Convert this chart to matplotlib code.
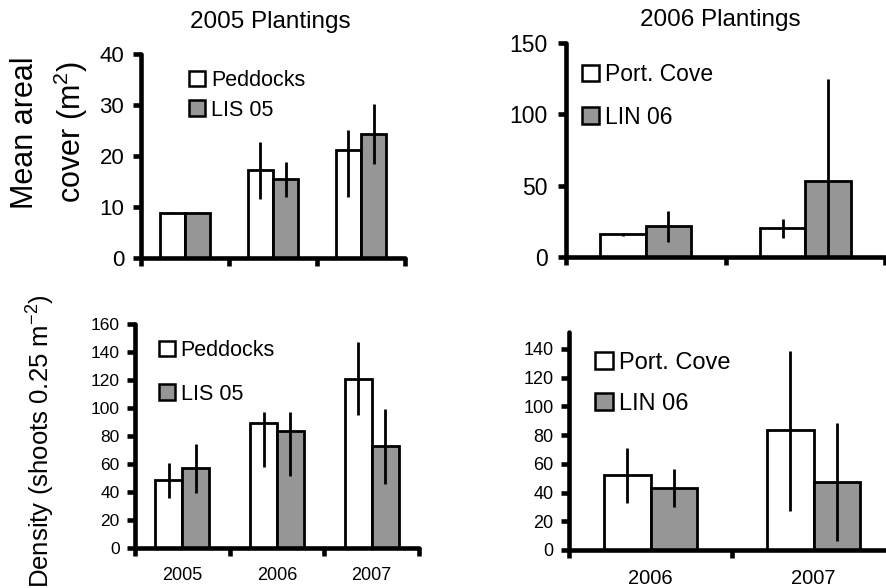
import matplotlib
matplotlib.use('Agg')
import matplotlib.pyplot as plt
from matplotlib.patches import Patch
import numpy as np

plt.rcParams['font.family'] = ['Liberation Sans', 'DejaVu Sans']
plt.rcParams['mathtext.fontset'] = 'custom'
plt.rcParams['mathtext.rm'] = 'Liberation Sans'

# ---------------- data ----------------
years_2005 = ['2005', '2006', '2007']
years_2006 = ['2006', '2007']

# Mean areal cover, 2005 plantings
cover05_ped = [8.9, 17.2, 21.1]
cover05_ped_lo = [0.15, 5.7, 9.1]
cover05_ped_hi = [0.15, 5.6, 4.0]
cover05_lis = [8.9, 15.5, 24.4]
cover05_lis_lo = [0.15, 3.5, 6.0]
cover05_lis_hi = [0.15, 3.4, 5.8]

# Mean areal cover, 2006 plantings
cover06_pc = [15.9, 20.1]
cover06_pc_lo = [1.0, 6.6]
cover06_pc_hi = [1.0, 6.3]
cover06_lin = [21.5, 53.0]
cover06_lin_lo = [11.0, 72.0]
cover06_lin_hi = [10.9, 72.0]

# Density, 2005 plantings
dens05_ped = [48.6, 89.3, 121.0]
dens05_ped_lo = [13.1, 31.4, 26.2]
dens05_ped_hi = [12.4, 7.8, 26.4]
dens05_lis = [57.4, 83.8, 72.9]
dens05_lis_lo = [17.9, 32.1, 27.2]
dens05_lis_hi = [16.9, 13.3, 26.6]

# Density, 2006 plantings
dens06_pc = [52.2, 83.3]
dens06_pc_lo = [19.2, 56.1]
dens06_pc_hi = [18.6, 55.5]
dens06_lin = [43.4, 47.4]
dens06_lin_lo = [13.2, 40.9]
dens06_lin_hi = [13.2, 40.8]

labels_2005 = ['Peddocks', 'LIS 05']
labels_2006 = ['Port. Cove', 'LIN 06']

GREY = '#969696'
W, H = 886, 588
fig = plt.figure(figsize=(W / 100, H / 100), dpi=100)


def px_axes(x0, x1, ytop, ybot):
    return fig.add_axes([x0 / W, 1 - ybot / H, (x1 - x0) / W, (ybot - ytop) / H])


def panel(ax, cats, v1, lo1, hi1, v2, lo2, hi2, labels, ymax, yticks,
          tick_fs, show_x, xlab_fs, leg_fs, leg_anchor, leg_spacing, ypad):
    n = len(cats)
    x = np.arange(n)
    w = 0.285
    ax.bar(x - w / 2, v1, w, color='white', edgecolor='black', linewidth=2.0, zorder=2)
    ax.bar(x + w / 2, v2, w, color=GREY, edgecolor='black', linewidth=2.0, zorder=2)
    ax.errorbar(x - w / 2, v1, yerr=[lo1, hi1], fmt='none', ecolor='black',
                elinewidth=2.0, capsize=0, zorder=3)
    ax.errorbar(x + w / 2, v2, yerr=[lo2, hi2], fmt='none', ecolor='black',
                elinewidth=2.0, capsize=0, zorder=3)
    ax.set_xlim(-0.5, n - 0.5)
    ax.set_ylim(0, ymax)
    for s in ['top', 'right']:
        ax.spines[s].set_visible(False)
    for s in ['left', 'bottom']:
        ax.spines[s].set_linewidth(3.3)
        ax.spines[s].set_capstyle('round')
    ax.set_xticks(np.arange(n + 1) - 0.5)
    ax.set_xticklabels([])
    ax.set_xticks(x, minor=True)
    ax.set_xticklabels(cats if show_x else [''] * n, minor=True, fontsize=xlab_fs)
    ax.tick_params(axis='x', which='major', direction='out', length=6, width=3.3)
    ax.tick_params(axis='x', which='minor', length=0, pad=14)
    ax.set_yticks(yticks)
    ax.tick_params(axis='y', direction='out', length=6, width=3.3, labelsize=tick_fs, pad=ypad)
    handles = [Patch(facecolor='white', edgecolor='black', linewidth=1.8),
               Patch(facecolor=GREY, edgecolor='black', linewidth=1.8)]
    ax.legend(handles, labels, loc='upper left', bbox_to_anchor=leg_anchor,
              frameon=False, fontsize=leg_fs, handlelength=0.75, handleheight=0.72,
              handletextpad=0.25, borderpad=0, borderaxespad=0, labelspacing=leg_spacing)


ax1 = px_axes(141, 405, 54, 258)
panel(ax1, years_2005, cover05_ped, cover05_ped_lo, cover05_ped_hi,
      cover05_lis, cover05_lis_lo, cover05_lis_hi, labels_2005,
      40, [0, 10, 20, 30, 40], 16, False, 13, 15.5, (0.183, 0.921), 0.39, 6)

ax2 = px_axes(566, 885, 43, 257)
panel(ax2, years_2006, cover06_pc, cover06_pc_lo, cover06_pc_hi,
      cover06_lin, cover06_lin_lo, cover06_lin_hi, labels_2006,
      150, [0, 50, 100, 150], 16.5, False, 13, 16.5, (0.05, 0.908), 0.87, 7)

ax3 = px_axes(135, 419, 324, 548)
panel(ax3, years_2005, dens05_ped, dens05_ped_lo, dens05_ped_hi,
      dens05_lis, dens05_lis_lo, dens05_lis_hi, labels_2005,
      160, list(range(0, 161, 20)), 12.5, True, 13, 15.5, (0.085, 0.928), 1.04, 5)

ax4 = px_axes(569, 895, 331.7, 550)
panel(ax4, years_2006, dens06_pc, dens06_pc_lo, dens06_pc_hi,
      dens06_lin, dens06_lin_lo, dens06_lin_hi, labels_2006,
      152, list(range(0, 141, 20)), 13, True, 14.5, 17, (0.08, 0.908), 0.81, 5)

# titles
fig.text(270 / W, 1 - 22 / H, '2005 Plantings', ha='center', va='center', fontsize=17.5)
fig.text(720 / W, 1 - 20 / H, '2006 Plantings', ha='center', va='center', fontsize=17.5)

# y labels
fig.text(25 / W, 1 - 133 / H, 'Mean areal', rotation=90, ha='center', va='center', fontsize=22)
fig.text(71 / W, 1 - 132 / H, 'cover (m$^{2}$)', rotation=90, ha='center', va='center', fontsize=22)
fig.text(40 / W, 1 - 441 / H, 'Density (shoots 0.25 m$^{-2}$)', rotation=90,
         ha='center', va='center', fontsize=18.5)

fig.savefig('out.png', dpi=100)
